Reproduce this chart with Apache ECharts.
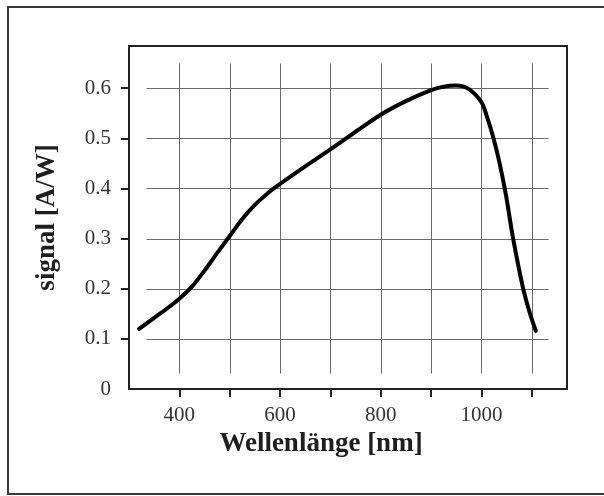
<!DOCTYPE html>
<html>
<head>
<meta charset="utf-8">
<script src="https://cdn.jsdelivr.net/npm/echarts@6/dist/echarts.min.js"></script>
<style>
  html, body { margin: 0; padding: 0; background: #fff; }
  #chart { width: 604px; height: 496px; }
</style>
</head>
<body>
<div id="chart"></div>
<script>
// Spectral responsivity of the detector
const wavelength = [320, 350, 375, 400, 425, 450, 475, 500, 525, 550, 575, 600, 650, 700, 750, 800, 850, 900, 925, 950, 975, 1000, 1012, 1024, 1036, 1049, 1063, 1083, 1096, 1108];
const signal     = [0.12, 0.142, 0.16, 0.18, 0.204, 0.236, 0.271, 0.305, 0.339, 0.367, 0.39, 0.409, 0.444, 0.478, 0.513, 0.547, 0.574, 0.596, 0.603, 0.605, 0.598, 0.572, 0.54, 0.5, 0.451, 0.385, 0.30, 0.20, 0.152, 0.116];

// Axis ticks and labels
const xTicks  = [400, 500, 600, 700, 800, 900, 1000, 1100];
const xLabels = [400, 600, 800, 1000];
const yTicks  = [0.1, 0.2, 0.3, 0.4, 0.5, 0.6];
const yLabels = [0, 0.1, 0.2, 0.3, 0.4, 0.5, 0.6];

// Grid lines stop short of the frame
const vGridSpan = [0.032, 0.65];
const hGridSpan = [334, 1133];

const serif = 'Liberation Serif';
const chart = echarts.init(document.getElementById('chart'), null, { renderer: 'canvas' });

const gridSeries = {
  type: 'custom',
  silent: true,
  z: 1,
  data: xTicks.map(v => [0, v]).concat(yTicks.map(v => [1, v])),
  renderItem: function (params, api) {
    const horizontal = api.value(0) === 1;
    const val = api.value(1);
    const p1 = horizontal ? api.coord([hGridSpan[0], val]) : api.coord([val, vGridSpan[0]]);
    const p2 = horizontal ? api.coord([hGridSpan[1], val]) : api.coord([val, vGridSpan[1]]);
    return {
      type: 'line',
      shape: {
        x1: Math.round(p1[0]) + 0.5, y1: Math.round(p1[1]) + 0.5,
        x2: Math.round(p2[0]) + 0.5, y2: Math.round(p2[1]) + 0.5
      },
      style: { stroke: '#6a6a6a', lineWidth: 1 }
    };
  },
  encode: { x: 1, y: 1 }
};

chart.setOption({
  animation: false,
  backgroundColor: '#fff',
  graphic: [{
    type: 'rect',
    shape: { x: 8, y: 7, width: 620, height: 487 },
    style: { fill: 'none', stroke: '#3a3a3a', lineWidth: 2 },
    silent: true
  }],
  grid: {
    left: 129, top: 46, right: 37, bottom: 107,
    show: true, borderColor: '#222', borderWidth: 2, backgroundColor: 'transparent'
  },
  xAxis: {
    type: 'value',
    min: 300, max: 1170,
    name: 'Wellenlänge [nm]',
    nameLocation: 'middle',
    nameGap: 42,
    nameTextStyle: { fontFamily: serif, fontSize: 27, fontWeight: 'bold', color: '#1e1e1e', padding: [0, 54, 0, 0] },
    axisLine: { show: true, onZero: false, lineStyle: { color: '#222', width: 2 } },
    axisTick: { show: true, customValues: xTicks, length: 8, lineStyle: { color: '#222', width: 2 } },
    axisLabel: { customValues: xLabels, margin: 16, fontFamily: serif, fontSize: 21, color: '#333',
      formatter: v => String(v) },
    splitLine: { show: false }
  },
  yAxis: {
    type: 'value',
    min: 0, max: 0.684,
    name: 'signal [A/W]',
    nameLocation: 'middle',
    nameGap: 68,
    nameTextStyle: { fontFamily: serif, fontSize: 27, fontWeight: 'bold', color: '#1e1e1e' },
    axisLine: { show: true, onZero: false, lineStyle: { color: '#222', width: 2 } },
    axisTick: { show: true, customValues: yTicks, length: 8, lineStyle: { color: '#222', width: 2 } },
    axisLabel: { customValues: yLabels, margin: 18, fontFamily: serif, fontSize: 21, color: '#333',
      formatter: v => (v === 0 ? '0' : v.toFixed(1)) },
    splitLine: { show: false }
  },
  series: [
    gridSeries,
    {
      type: 'line',
      z: 3,
      data: wavelength.map((w, i) => [w, signal[i]]),
      smooth: 0.3,
      showSymbol: false,
      lineStyle: { color: '#000', width: 4, cap: 'round', join: 'round' }
    }
  ]
});
</script>
</body>
</html>
